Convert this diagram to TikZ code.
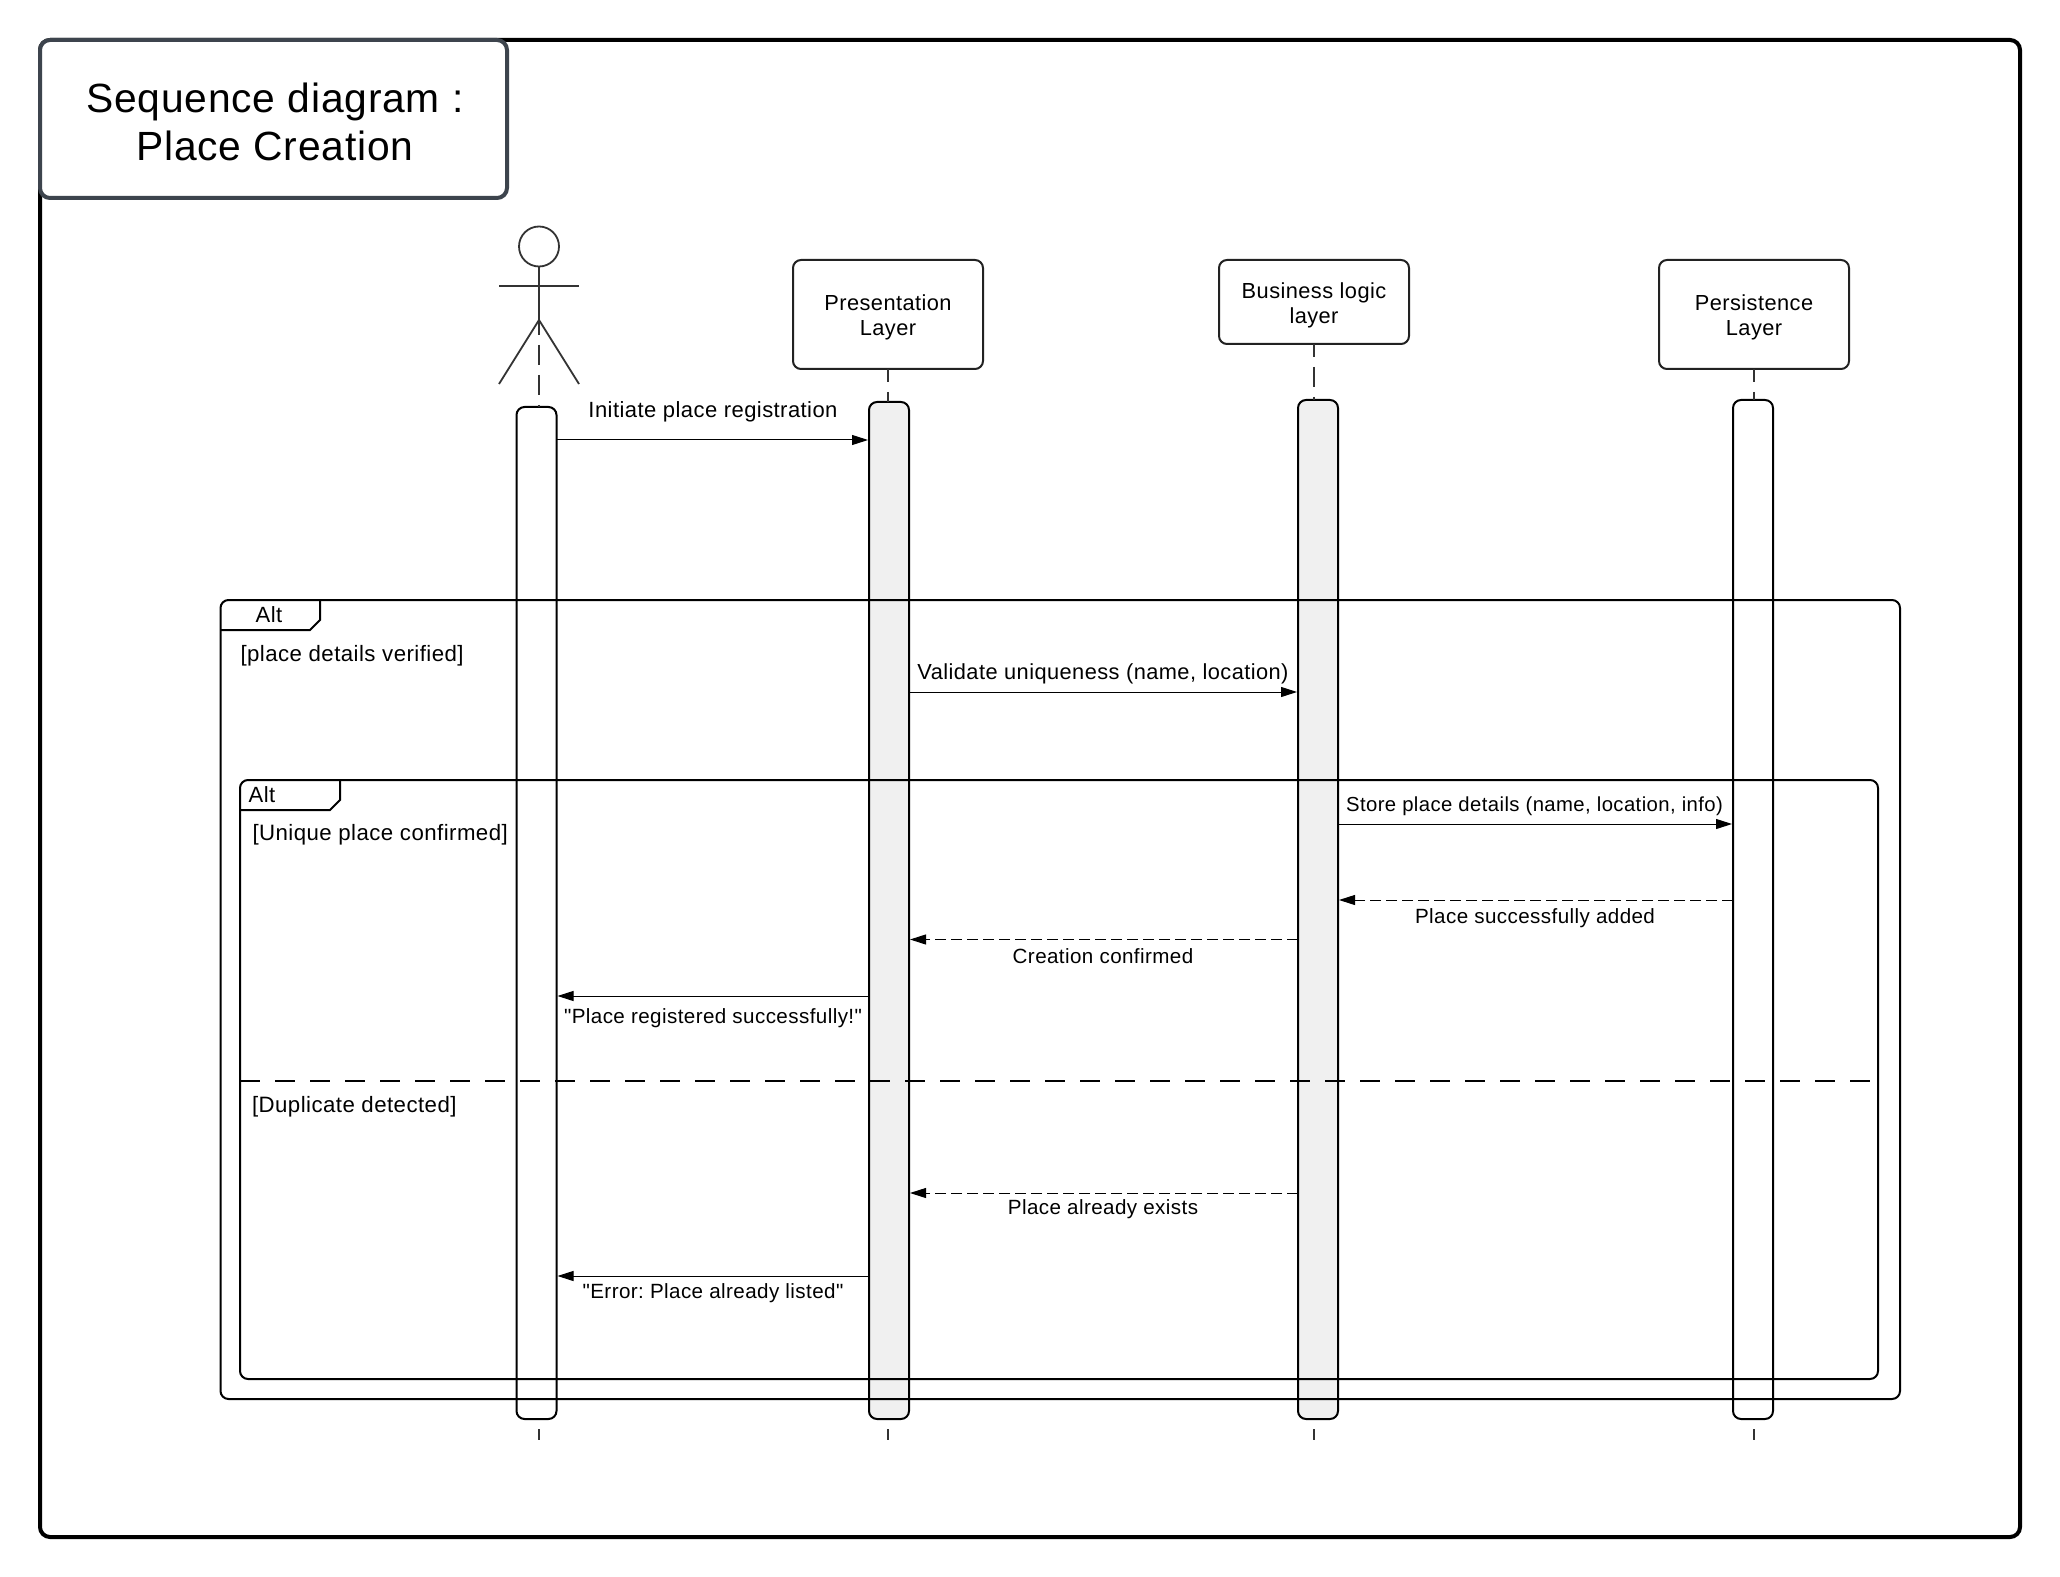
\documentclass[tikz,border=0pt]{standalone}
\usepackage{fontspec}
\setmainfont{Liberation Sans}[LetterSpace=2.0,Ligatures=TeXOff]
\usetikzlibrary{arrows.meta}
\definecolor{ink}{HTML}{222222}
\definecolor{slatebox}{HTML}{3D444D}
\definecolor{lifeink}{HTML}{333333}
\definecolor{barfill}{HTML}{F0F0F0}
\newcommand{\headlow}{\rule{0pt}{10.9pt}}
\newcommand{\titlelow}{\rule{0pt}{17.4pt}\hspace*{1.3pt}}
\tikzset{
  every node/.style={outer sep=0pt},
  framebox/.style={draw=black,line width=2pt,rounded corners=5pt,fill=white,inner sep=0pt},
  titlebox/.style={draw=slatebox,line width=2pt,rounded corners=5pt,fill=white,align=center,
    font=\frenchspacing\fontsize{20.4}{24}\selectfont,minimum width=233.5pt,minimum height=79pt,inner sep=0pt},
  headbox/.style={draw=ink,line width=1pt,rounded corners=4pt,fill=white,align=center,
    font=\frenchspacing\fontsize{10.9}{12.5}\selectfont,minimum width=95pt,inner sep=0pt},
  actbar/.style={draw=black,line width=1pt,rounded corners=4pt,minimum width=20pt,inner sep=0pt},
  lifeline/.style={draw=lifeink,line width=0.9pt,dash pattern=on 10pt off 5pt,dash phase=3.5pt},
  actorlife/.style={lifeline,dash phase=2.5pt},
  altbox/.style={draw=black,line width=1pt,rounded corners=4pt},
  tabline/.style={draw=black,line width=1pt},
  msg/.style={draw=black,line width=0.5pt,shorten >=0.5pt,-{Triangle[length=8pt,width=5pt]}},
  rmsg/.style={msg,dash pattern=on 5.5pt off 2.5pt},
  bigtxt/.style={font=\frenchspacing\fontsize{11}{13}\selectfont,inner sep=0pt},
  guardtxt/.style={font=\frenchspacing\fontsize{11.12}{13}\selectfont,inner sep=0pt,anchor=west},
  smalltxt/.style={font=\frenchspacing\fontsize{10.3}{12}\selectfont,inner sep=0pt},
  divider/.style={draw=black,line width=0.9pt,dash pattern=on 10pt off 7.5pt},
  actorline/.style={draw=lifeink,line width=0.9pt},
}
\begin{document}
\begin{tikzpicture}[x=0.5pt,y=-0.5pt]
\useasboundingbox (0,0) rectangle (2060,1577);
\fill[white] (0,0) rectangle (2060,1577);
% frame and title
\node[framebox,minimum width=990pt,minimum height=748.5pt,anchor=north west] (frame) at (40,40) {};
\node[titlebox,anchor=north west] (title) at (40,40) {\titlelow Sequence diagram :\\\hspace*{1.3pt}Place Creation};
% actor
\node[actorline,draw,circle,minimum size=20pt,inner sep=0pt] (head) at (539,246.5) {};
\coordinate (neck) at (539,320);
\coordinate (armL) at (499,286);
\coordinate (armR) at (579,286);
\coordinate (legL) at (499,384);
\coordinate (legR) at (579,384);
\draw[actorline] (head.south) -- (neck);
\draw[actorline] (armL) -- (armR);
\draw[actorline] (legL) -- (neck) -- (legR);
% heads
\node[headbox,minimum height=54.5pt,anchor=north] (pres) at (888,260) {\headlow Presentation\\Layer};
\node[headbox,minimum height=42pt,anchor=north] (biz) at (1314,260) {\headlow Business logic\\layer};
\node[headbox,minimum height=54.5pt,anchor=north] (pers) at (1754,260) {\headlow Persistence\\Layer};
% activation bars
\node[actbar,fill=white,minimum height=506pt,anchor=north] (a1) at (536.5,407) {};
\node[actbar,fill=barfill,minimum height=508.5pt,anchor=north] (a2) at (889,402) {};
\node[actbar,fill=barfill,minimum height=509.5pt,anchor=north] (a3) at (1318,400) {};
\node[actbar,fill=white,minimum height=509.5pt,anchor=north] (a4) at (1753,400) {};
% lifeline stubs
\coordinate (e1) at (539,1429); \coordinate (f1) at (539,1440);
\coordinate (e2) at (888,1429); \coordinate (f2) at (888,1440);
\coordinate (e3) at (1314,1429); \coordinate (f3) at (1314,1440);
\coordinate (e4) at (1754,1429); \coordinate (f4) at (1754,1440);
\draw[actorlife] (neck) -- (neck |- a1.north);
\draw[lifeline] (pres.south) -- (pres.south |- a2.north);
\draw[lifeline] (biz.south) -- (biz.south |- a3.north);
\draw[lifeline] (pers.south) -- (pers.south |- a4.north);
\draw[lifeline,dash phase=0pt] (e1) -- (f1);
\draw[lifeline,dash phase=0pt] (e2) -- (f2);
\draw[lifeline,dash phase=0pt] (e3) -- (f3);
\draw[lifeline,dash phase=0pt] (e4) -- (f4);
% alt frames
\node[altbox,minimum width=839.75pt,minimum height=399.5pt,anchor=north west,inner sep=0pt] (alto) at (220.5,600) {};
\coordinate (tabo1) at (220.5,630); \coordinate (tabo2) at (310,630);
\coordinate (tabo3) at (320,620); \coordinate (tabo4) at (320,600);
\draw[tabline] (tabo1) -- (tabo2) -- (tabo3) -- (tabo4);
\node[bigtxt] (alto-t) at (269,615) {Alt};
\node[guardtxt] (g1) at (240.5,655.5) {[place details verified]};
\node[altbox,minimum width=819pt,minimum height=299.5pt,anchor=north west,inner sep=0pt] (alti) at (240,780) {};
\coordinate (tabi1) at (240,810); \coordinate (tabi2) at (330,810);
\coordinate (tabi3) at (340,800); \coordinate (tabi4) at (340,780);
\draw[tabline] (tabi1) -- (tabi2) -- (tabi3) -- (tabi4);
\node[bigtxt] (alti-t) at (262,795) {Alt};
\node[guardtxt] (g2) at (252.5,835) {[Unique place confirmed]};
\node[guardtxt] (g3) at (252,1107) {[Duplicate detected]};
\coordinate (div1) at (240,1081); \coordinate (div2) at (1870,1081);
\draw[divider] (div1) -- (div2);
% messages
\draw[msg] (a1.east |- 0,440) -- (a2.west |- 0,440);
\node[bigtxt] (m1) at (713,412) {Initiate place registration};
\draw[msg] (a2.east |- 0,692) -- (a3.west |- 0,692);
\node[bigtxt,font=\frenchspacing\fontsize{10.9}{13}\selectfont] (m2) at (1103,673.5) {Validate uniqueness (name, location)};
\draw[msg] (a3.east |- 0,824) -- (a4.west |- 0,824);
\node[smalltxt,font=\frenchspacing\fontsize{10.15}{12}\selectfont] (m3) at (1534.5,806) {Store place details (name, location, info)};
\draw[rmsg] (a4.west |- 0,900) -- (a3.east |- 0,900);
\node[smalltxt] (m4) at (1535,918) {Place successfully added};
\draw[rmsg] (a3.west |- 0,939.5) -- (a2.east |- 0,939.5);
\node[smalltxt] (m5) at (1103,956) {Creation confirmed};
\draw[msg] (a2.west |- 0,996) -- (a1.east |- 0,996);
\node[smalltxt] (m6) at (713,1018) {"Place registered successfully!"};
\draw[rmsg] (a3.west |- 0,1193) -- (a2.east |- 0,1193);
\node[smalltxt] (m7) at (1103,1209.5) {Place already exists};
\draw[msg] (a2.west |- 0,1276) -- (a1.east |- 0,1276);
\node[smalltxt] (m8) at (713,1293) {"Error: Place already listed"};
\end{tikzpicture}
\end{document}
